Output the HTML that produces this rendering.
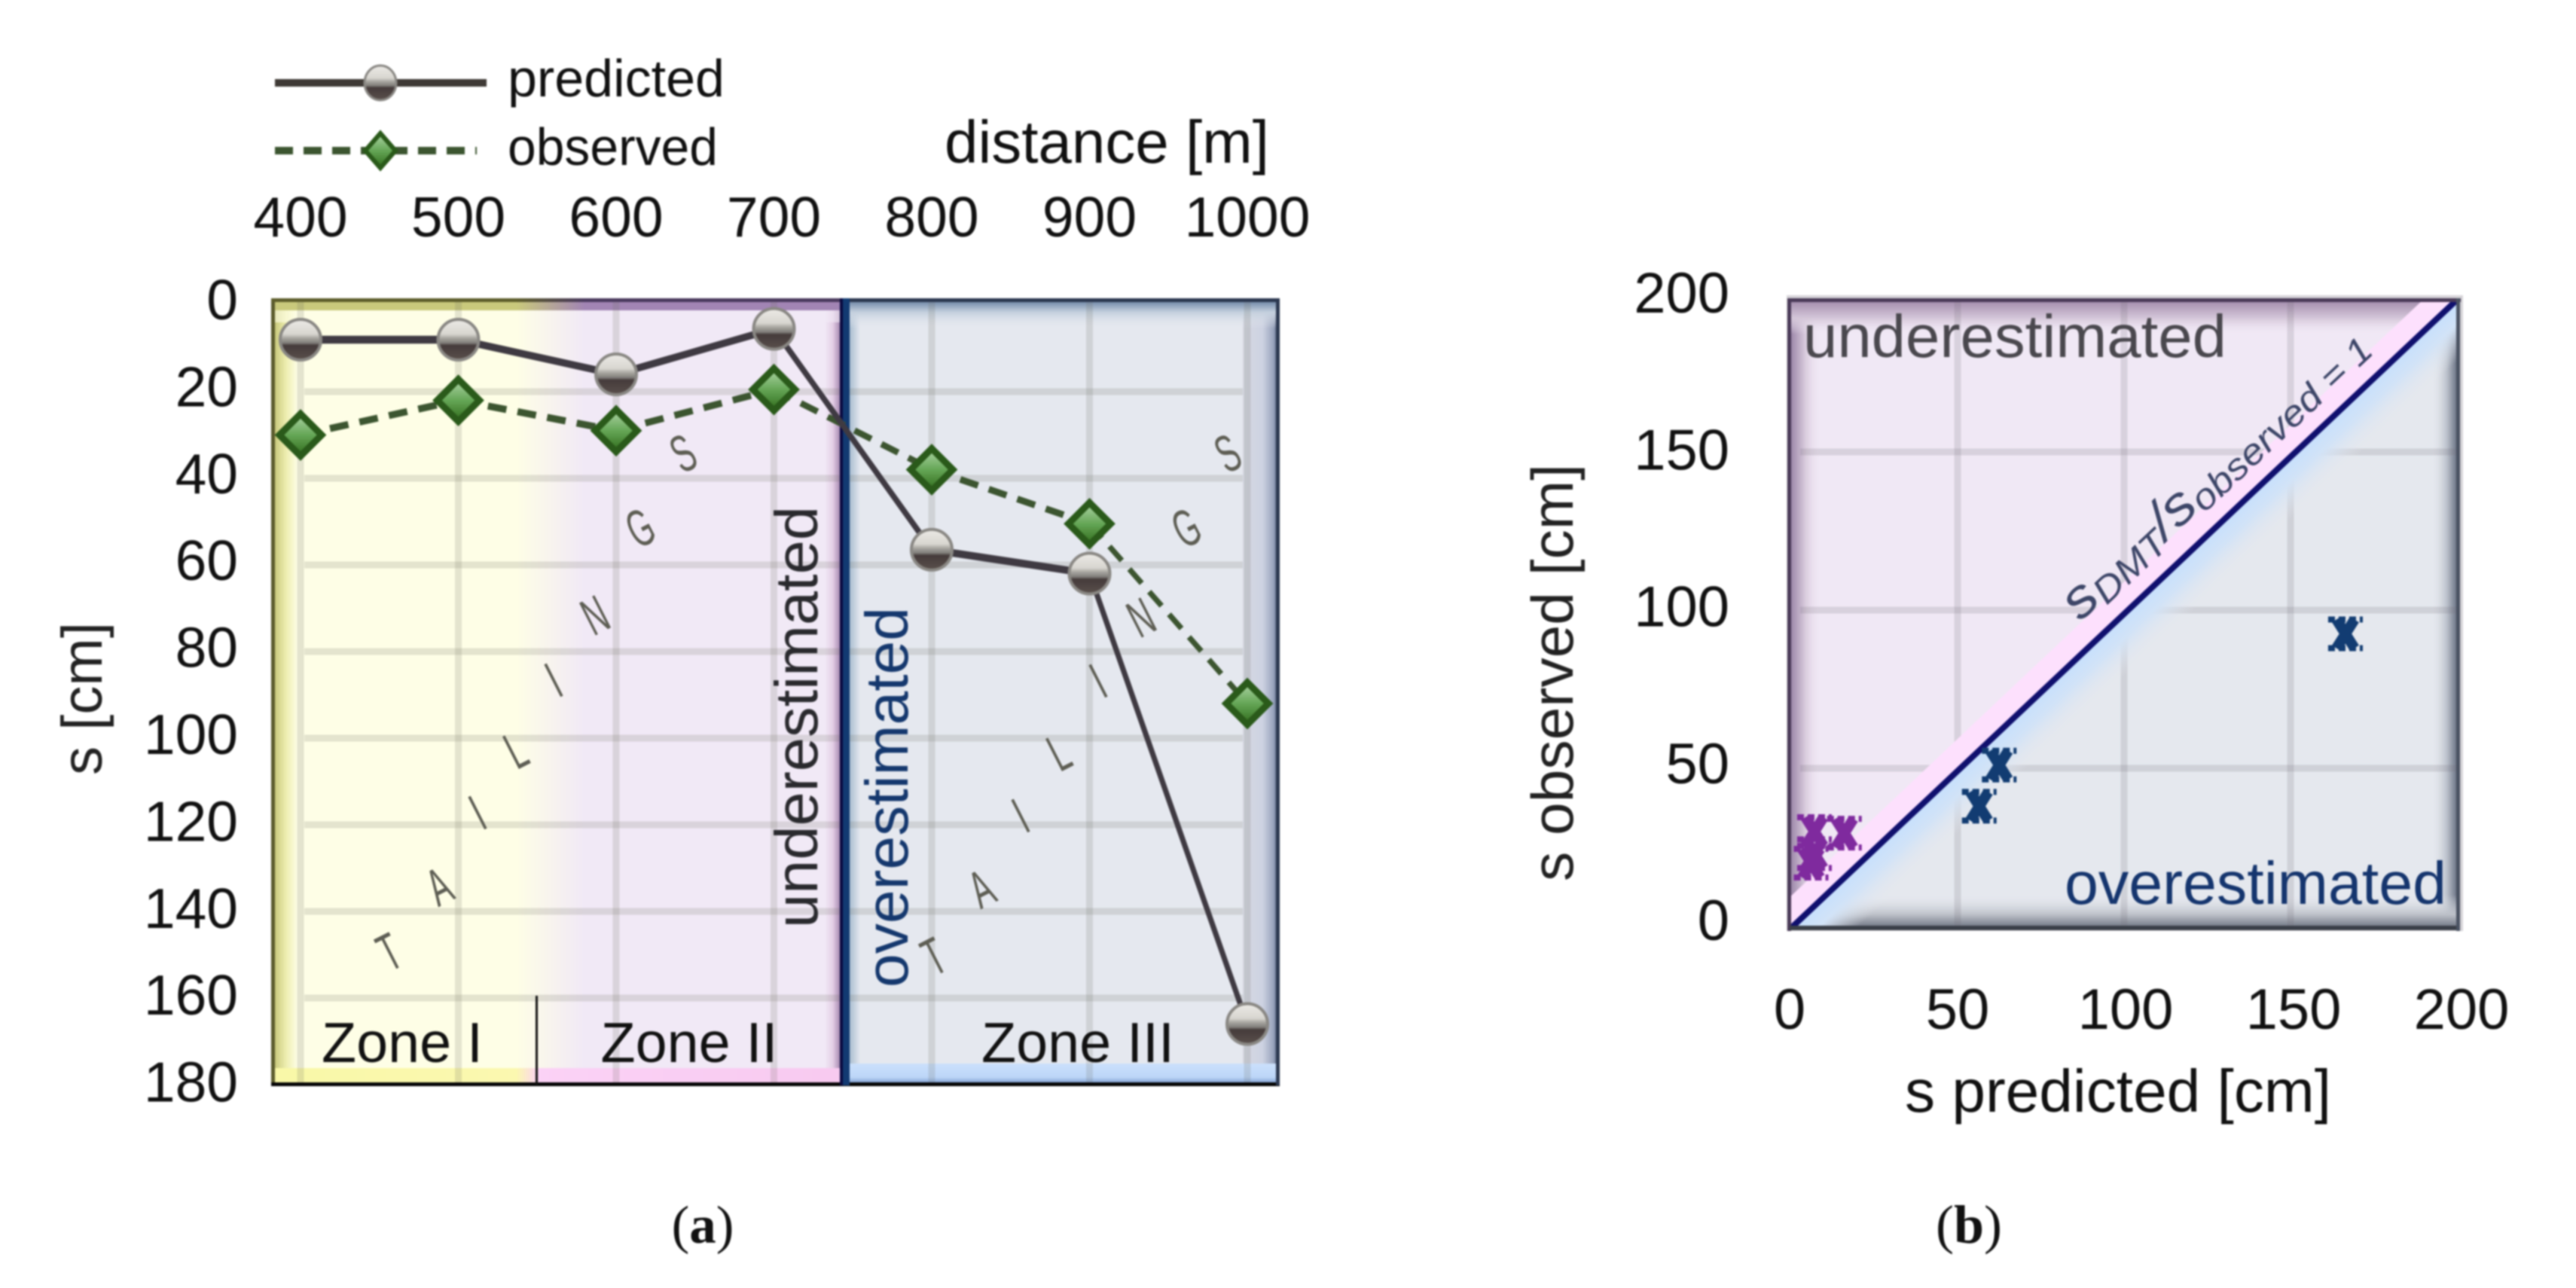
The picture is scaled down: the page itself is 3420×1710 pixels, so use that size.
<!DOCTYPE html>
<html lang="en">
<head>
<meta charset="utf-8">
<title>Settlement charts</title>
<style>
html,body{margin:0;padding:0;background:#fff;width:3420px;height:1710px;overflow:hidden}
svg{display:block;filter:blur(1.1px)}
text{font-family:"Liberation Sans",sans-serif;fill:#111}
</style>
</head>
<body>
<svg id="chart" xmlns="http://www.w3.org/2000/svg" width="3420" height="1710" viewBox="0 0 3420 1710">
<defs>
  <linearGradient id="zoneFade" gradientUnits="userSpaceOnUse" x1="362" x2="1115" y1="0" y2="0">
    <stop offset="0" stop-color="#fefee6"/><stop offset="0.43" stop-color="#fefee6"/><stop offset="0.55" stop-color="#f1e9f6"/><stop offset="1" stop-color="#f1e9f6"/>
  </linearGradient>
  <linearGradient id="topBandA" gradientUnits="userSpaceOnUse" x1="362" x2="1115" y1="0" y2="0">
    <stop offset="0" stop-color="#c9c97c"/><stop offset="0.43" stop-color="#c9c97c"/><stop offset="0.55" stop-color="#a285b4"/><stop offset="1" stop-color="#a285b4"/>
  </linearGradient>
  <linearGradient id="topDarkA" gradientUnits="userSpaceOnUse" x1="362" x2="1115" y1="0" y2="0">
    <stop offset="0" stop-color="#5e5e2c"/><stop offset="0.43" stop-color="#5e5e2c"/><stop offset="0.55" stop-color="#4a3a5e"/><stop offset="1" stop-color="#4a3a5e"/>
  </linearGradient>
  <linearGradient id="botBandA" gradientUnits="userSpaceOnUse" x1="362" x2="1115" y1="0" y2="0">
    <stop offset="0" stop-color="#f9f8a8"/><stop offset="0.43" stop-color="#fbf8b0"/><stop offset="0.47" stop-color="#fbd2f6"/><stop offset="1" stop-color="#f8caf0"/>
  </linearGradient>
  <linearGradient id="bandLeftY" x1="0" x2="1" y1="0" y2="0">
    <stop offset="0" stop-color="#c9c97c"/><stop offset="0.5" stop-color="#eeeeb0"/><stop offset="1" stop-color="#fefee6"/>
  </linearGradient>
  <linearGradient id="bandRightP" x1="0" x2="1" y1="0" y2="0">
    <stop offset="0" stop-color="#f1e9f6"/><stop offset="0.5" stop-color="#e4cfe6"/><stop offset="1" stop-color="#a283ad"/>
  </linearGradient>
  <linearGradient id="bandRightB" x1="0" x2="1" y1="0" y2="0">
    <stop offset="0" stop-color="#d6d9e3"/><stop offset="0.55" stop-color="#cdd2e2"/><stop offset="0.85" stop-color="#98a3bc"/><stop offset="1" stop-color="#3a4866"/>
  </linearGradient>
  <linearGradient id="bandLeftB" x1="0" x2="1" y1="0" y2="0">
    <stop offset="0" stop-color="#a9bdd0"/><stop offset="1" stop-color="#e5e8ef"/>
  </linearGradient>
  <linearGradient id="topBandB" x1="0" x2="0" y1="0" y2="1">
    <stop offset="0" stop-color="#7188a8"/><stop offset="0.4" stop-color="#c4d0de"/><stop offset="1" stop-color="#e5e8ef" stop-opacity="0"/>
  </linearGradient>
  <linearGradient id="botBandB" x1="0" x2="0" y1="0" y2="1">
    <stop offset="0" stop-color="#cbe0fc"/><stop offset="0.7" stop-color="#bcd6f8"/><stop offset="1" stop-color="#7f9fd0"/>
  </linearGradient>
  <linearGradient id="bTop" x1="0" x2="0" y1="0" y2="1">
    <stop offset="0" stop-color="#a48eae"/><stop offset="0.5" stop-color="#d4c6d8"/><stop offset="1" stop-color="#f0e8f5" stop-opacity="0"/>
  </linearGradient>
  <linearGradient id="bLeft" x1="0" x2="1" y1="0" y2="0">
    <stop offset="0" stop-color="#9d87a9"/><stop offset="0.5" stop-color="#dccfe0"/><stop offset="1" stop-color="#f0e8f5" stop-opacity="0"/>
  </linearGradient>
  <linearGradient id="bRight" x1="0" x2="1" y1="0" y2="0">
    <stop offset="0" stop-color="#e5e8ee" stop-opacity="0"/><stop offset="0.6" stop-color="#bcc2cc"/><stop offset="1" stop-color="#6a7284"/>
  </linearGradient>
  <linearGradient id="bBottom" x1="0" x2="0" y1="0" y2="1">
    <stop offset="0" stop-color="#e5e8ee" stop-opacity="0"/><stop offset="0.6" stop-color="#bcc0c8"/><stop offset="1" stop-color="#6c7280"/>
  </linearGradient>
  <linearGradient id="ballFill" x1="0" x2="0" y1="0" y2="1">
    <stop offset="0" stop-color="#eceae6"/><stop offset="0.36" stop-color="#d8d6d0"/><stop offset="0.46" stop-color="#a8a6a0"/><stop offset="0.58" stop-color="#807e7a"/><stop offset="0.64" stop-color="#453b3b"/><stop offset="1" stop-color="#5a504c"/>
  </linearGradient>
  <linearGradient id="gemFill" x1="0" x2="0" y1="0" y2="1">
    <stop offset="0" stop-color="#b0d6a8"/><stop offset="0.5" stop-color="#65a656"/><stop offset="1" stop-color="#2f6a1a"/>
  </linearGradient>
  <linearGradient id="blueGlow" gradientUnits="userSpaceOnUse" x1="2820" y1="815" x2="2861.2" y2="858.6">
    <stop offset="0" stop-color="#c6e0fd"/><stop offset="0.4" stop-color="#d2e3f7"/><stop offset="1" stop-color="#e5e8ee" stop-opacity="0"/>
  </linearGradient>
  <clipPath id="clipB"><rect x="2378" y="400" width="884" height="832"/></clipPath>
</defs>

<!-- Panel A background -->
<g>
  <rect x="362" y="398" width="756" height="1041" fill="url(#zoneFade)"/>
  <rect x="1118" y="398" width="580" height="1041" fill="#e5e8ef"/>
  <rect x="365" y="400" width="30" height="1038" fill="url(#bandLeftY)"/>
  <rect x="1095" y="400" width="21" height="1038" fill="url(#bandRightP)"/>
  <rect x="1650" y="400" width="48" height="1038" fill="url(#bandRightB)"/>
  <rect x="1128" y="400" width="14" height="1038" fill="url(#bandLeftB)"/>
  <rect x="362" y="400" width="754" height="12" fill="url(#topBandA)"/>
  <rect x="1128" y="400" width="570" height="36" fill="url(#topBandB)"/>
  <rect x="362" y="412" width="754" height="16" fill="url(#zoneFade)" opacity="0.6"/>
  <rect x="362" y="1418" width="754" height="20" fill="url(#botBandA)"/>
  <rect x="1128" y="1412" width="570" height="26" fill="url(#botBandB)"/>
</g>
<g id="gridA"></g>
<g>
  <rect x="360" y="396" width="5" height="1045" fill="#5a5a2c"/>
  <rect x="360" y="396" width="756" height="5" fill="url(#topDarkA)"/>
  <rect x="1128" y="396" width="570" height="5" fill="#2c3850"/>
  <rect x="360" y="1437" width="1339" height="5" fill="#050505"/>
  <rect x="1694" y="396" width="5" height="1045" fill="#2c3850"/>
  <rect x="1115" y="396" width="4" height="1045" fill="#0a0a40"/>
  <rect x="1119" y="396" width="9" height="1045" fill="#123a72"/>
  <rect x="711" y="1322" width="3" height="118" fill="#111"/>
</g>
<g style="font-size:70px">
  <text style="fill:#5e5e54" transform="translate(517 1264) rotate(-27) scale(.58 1)" text-anchor="middle" dy="24">T</text>
  <text style="fill:#5e5e54" transform="translate(583 1177) rotate(-27) scale(.58 1)" text-anchor="middle" dy="24">A</text>
  <text style="fill:#5e5e54" transform="translate(634 1079) rotate(-27) scale(.58 1)" text-anchor="middle" dy="24">I</text>
  <text style="fill:#5e5e54" transform="translate(685 996) rotate(-27) scale(.58 1)" text-anchor="middle" dy="24">L</text>
  <text style="fill:#5e5e54" transform="translate(735 903) rotate(-27) scale(.58 1)" text-anchor="middle" dy="24">I</text>
  <text style="fill:#5e5e54" transform="translate(790 817) rotate(-27) scale(.58 1)" text-anchor="middle" dy="24">N</text>
  <text style="fill:#5e5e54" transform="translate(850 701) rotate(-27) scale(.58 1)" text-anchor="middle" dy="24">G</text>
  <text style="fill:#5e5e54" transform="translate(907 602) rotate(-27) scale(.58 1)" text-anchor="middle" dy="24">S</text>
</g>
<g style="font-size:70px">
  <text style="fill:#5e5e54" transform="translate(1240 1270) rotate(-27) scale(.58 1)" text-anchor="middle" dy="24">T</text>
  <text style="fill:#5e5e54" transform="translate(1303 1180) rotate(-27) scale(.58 1)" text-anchor="middle" dy="24">A</text>
  <text style="fill:#5e5e54" transform="translate(1355 1083) rotate(-27) scale(.58 1)" text-anchor="middle" dy="24">I</text>
  <text style="fill:#5e5e54" transform="translate(1406 999) rotate(-27) scale(.58 1)" text-anchor="middle" dy="24">L</text>
  <text style="fill:#5e5e54" transform="translate(1458 904) rotate(-27) scale(.58 1)" text-anchor="middle" dy="24">I</text>
  <text style="fill:#5e5e54" transform="translate(1515 820) rotate(-27) scale(.58 1)" text-anchor="middle" dy="24">N</text>
  <text style="fill:#5e5e54" transform="translate(1575 701) rotate(-27) scale(.58 1)" text-anchor="middle" dy="24">G</text>
  <text style="fill:#5e5e54" transform="translate(1630 602) rotate(-27) scale(.58 1)" text-anchor="middle" dy="24">S</text>
</g>
<text x="534" y="1410" text-anchor="middle" font-size="75" textLength="214" lengthAdjust="spacingAndGlyphs">Zone I</text>
<text x="915" y="1410" text-anchor="middle" font-size="75" textLength="235" lengthAdjust="spacingAndGlyphs">Zone II</text>
<text x="1431" y="1410" text-anchor="middle" font-size="75" textLength="256" lengthAdjust="spacingAndGlyphs">Zone III</text>
<text transform="translate(1085 1232) rotate(-90)" font-size="80" textLength="560" lengthAdjust="spacingAndGlyphs" style="fill:#2a2a2e">underestimated</text>
<text transform="translate(1205 1311) rotate(-90)" font-size="80" textLength="505" lengthAdjust="spacingAndGlyphs" style="fill:#15386e">overestimated</text>

<g id="seriesA"></g>
<g id="axesA"></g>

<text x="1254" y="216" font-size="80" textLength="431" lengthAdjust="spacingAndGlyphs">distance [m]</text>
<text transform="translate(135 1029) rotate(-90)" font-size="76" textLength="203" lengthAdjust="spacingAndGlyphs" style="fill:#222">s [cm]</text>

<g>
  <line x1="365" y1="110" x2="646" y2="110" stroke="#3f3a36" stroke-width="10"/>
  <ellipse cx="505" cy="110" rx="21" ry="23" fill="url(#ballFill)" stroke="#8a8884" stroke-width="3"/>
  <text x="674" y="128" font-size="70" textLength="288" lengthAdjust="spacingAndGlyphs">predicted</text>
  <line x1="365" y1="200" x2="633" y2="200" stroke="#3c5530" stroke-width="10" stroke-dasharray="24 14"/>
  <polygon points="505,177 525,200 505,223 485,200" fill="url(#gemFill)" stroke="#2a5a1a" stroke-width="6"/>
  <text x="674" y="219" font-size="70" textLength="279" lengthAdjust="spacingAndGlyphs">observed</text>
</g>
<text x="933" y="1650" text-anchor="middle" font-size="71" style="font-family:'Liberation Serif',serif">(<tspan font-weight="bold">a</tspan>)</text>

<!-- Panel B -->
<g>
  <rect x="2372" y="392" width="898" height="844" fill="#d6d4d8"/>
  <rect x="2378" y="400" width="884" height="832" fill="#e5e8ee"/>
  <g clip-path="url(#clipB)">
    <polygon points="2378,1232 3262,398 2378,398" fill="#f0e8f5"/>
    <rect x="2378" y="400" width="40" height="832" fill="url(#bLeft)"/>
    <rect x="2378" y="400" width="884" height="44" fill="url(#bTop)"/>
    <rect x="3228" y="400" width="34" height="832" fill="url(#bRight)"/>
    <rect x="2378" y="1188" width="884" height="44" fill="url(#bBottom)"/>
  </g>
</g>
<g id="gridB"></g>
<g id="diagB" clip-path="url(#clipB)"></g>
<g>
  <rect x="2373" y="396" width="894" height="5" fill="#4a3a58"/>
  <rect x="2373" y="396" width="5" height="840" fill="#4a3a58"/>
  <rect x="2376" y="1229" width="890" height="6" fill="#3a3f48"/>
  <rect x="3261" y="396" width="5" height="840" fill="#4a5262"/>
</g>
<g id="seriesB"></g>
<text x="2394" y="474" font-size="80" textLength="562" lengthAdjust="spacingAndGlyphs" style="fill:#4a484e">underestimated</text>
<text x="2741" y="1200" font-size="80" textLength="507" lengthAdjust="spacingAndGlyphs" style="fill:#15356e">overestimated</text>
<text transform="translate(2762 826) rotate(-43.3)" font-size="72" font-style="italic" textLength="530" lengthAdjust="spacingAndGlyphs" style="fill:#3d4668">s<tspan font-size="48" dy="8">DMT</tspan><tspan dy="-8">/s</tspan><tspan font-size="48" dy="8">observed</tspan><tspan font-size="48"> = 1</tspan></text>
<g id="axesB"></g>
<text x="2812" y="1476" text-anchor="middle" font-size="80" textLength="566" lengthAdjust="spacingAndGlyphs">s predicted [cm]</text>
<text transform="translate(2088 1170) rotate(-90)" font-size="78" textLength="554" lengthAdjust="spacingAndGlyphs" style="fill:#222">s observed [cm]</text>
<text x="2614" y="1650" text-anchor="middle" font-size="72" style="font-family:'Liberation Serif',serif">(<tspan font-weight="bold">b</tspan>)</text>
</svg>

<script>
// Panel A data
const distances = [400, 500, 600, 700, 800, 900, 1000];
const predictedA = [8, 8, 16, 5.5, 56.5, 62, 166];
const observedA = [30, 22, 29, 19.5, 38, 50.5, 92];
const depthTicks = [0, 20, 40, 60, 80, 100, 120, 140, 160, 180];
// Panel B data
const scatterPurpleX = [7, 16, 6, 7];
const scatterPurpleY = [30, 29.5, 20, 23];
const scatterBlueX = [56.5, 62.5, 166.5];
const scatterBlueY = [38, 51, 92.5];
const scatterTicks = [0, 50, 100, 150, 200];

const NS = 'http://www.w3.org/2000/svg';
function make(tag, attrs, parent) {
  const el = document.createElementNS(NS, tag);
  for (const k in attrs) el.setAttribute(k, attrs[k]);
  parent.appendChild(el);
  return el;
}
const xA = d => 399 + 2.095 * (d - 400);
const yA = s => 405 + 5.75 * s;
const xB = v => 2378 + 4.42 * v;
const yB = v => 1230 - 4.2 * v;

// Grid A
const gridA = document.getElementById('gridA');
distances.forEach(d => {
  const l = make('line', {x1: xA(d), x2: xA(d), y1: 401, y2: 1437, stroke: 'rgb(110,110,100)', 'stroke-opacity': 0.18, 'stroke-width': 9}, gridA);
  
  
});
depthTicks.slice(1, -1).forEach(s => {
  [[404, 1115], [1128, 1650]].forEach(r => {
    const l = make('line', {x1: r[0], x2: r[1], y1: yA(s), y2: yA(s), stroke: 'rgb(110,110,100)', 'stroke-opacity': 0.18, 'stroke-width': 9}, gridA);
    
    
  });
});

// Axes A
const axesA = document.getElementById('axesA');
distances.forEach(d => {
  const t = make('text', {x: xA(d), y: 314, 'text-anchor': 'middle', 'font-size': 75}, axesA);
  t.textContent = d;
  
  
});
depthTicks.forEach(s => {
  const t = make('text', {x: 316, y: yA(s) - 7 + 0.02 * s + 26, 'text-anchor': 'end', 'font-size': 75}, axesA);
  t.textContent = s;
  
  
});

// Series A
const seriesA = document.getElementById('seriesA');
function drawLine(values, color, base, dash, name) {
  for (let i = 0; i < values.length - 1; i++) {
    const x1 = xA(distances[i]), y1 = yA(values[i]), x2 = xA(distances[i + 1]), y2 = yA(values[i + 1]);
    const len = Math.hypot(x2 - x1, y2 - y1);
    const w = base - 3.5 * Math.abs(y2 - y1) / len;
    const l = make('line', {x1, y1, x2, y2, stroke: color, 'stroke-width': w}, seriesA);
    if (dash) l.setAttribute('stroke-dasharray', dash);
    
    
  }
}
drawLine(observedA, '#3c5530', 10, '25 15', 'observed-line');
drawLine(predictedA, '#3f3a42', 10.5, null, 'predicted-line');
observedA.forEach((s, i) => {
  const cx = xA(distances[i]), cy = yA(s);
  const p = make('polygon', {points: [[cx, cy - 28], [cx + 28, cy], [cx, cy + 28], [cx - 28, cy]].map(a => a.join(',')).join(' '), fill: 'url(#gemFill)', stroke: '#2a5a1a', 'stroke-width': 9}, seriesA);
  
  
});
predictedA.forEach((s, i) => {
  const c = make('circle', {cx: xA(distances[i]), cy: yA(s), r: 27, fill: 'url(#ballFill)', stroke: '#8a8884', 'stroke-width': 4}, seriesA);
  
  
});

// Grid B
const gridB = document.getElementById('gridB');
scatterTicks.slice(1, -1).forEach(v => {
  const lv = make('line', {x1: xB(v), x2: xB(v), y1: 401, y2: 1229, stroke: 'rgb(110,105,115)', 'stroke-opacity': 0.18, 'stroke-width': 9}, gridB);
  
  
  const lh = make('line', {x1: 2390, x2: 3261, y1: yB(v), y2: yB(v), stroke: 'rgb(110,105,115)', 'stroke-opacity': 0.18, 'stroke-width': 9}, gridB);
  
  
});

// Diagonal
const diagB = document.getElementById('diagB');
const diagFrom = 0, diagTo = 200;
const dx0 = xB(diagFrom), dy0 = 1232, dx1 = xB(diagTo), dy1 = 398;
const pink = make('line', {x1: dx0 - 12, y1: dy0 - 12, x2: dx1 - 12, y2: dy1 - 12, stroke: '#fde0fd', 'stroke-width': 28}, diagB);


const blue = make('line', {x1: dx0 + 21, y1: dy0 + 22, x2: dx1 + 21, y2: dy1 + 22, stroke: 'url(#blueGlow)', 'stroke-width': 60}, diagB);


const navy = make('line', {x1: dx0, y1: dy0, x2: dx1, y2: dy1, stroke: '#10106e', 'stroke-width': 8}, diagB);



// Axes B
const axesB = document.getElementById('axesB');
scatterTicks.forEach(v => {
  const tx = make('text', {x: 2376 + 4.46 * v, y: 1366, 'text-anchor': 'middle', 'font-size': 76}, axesB);
  tx.textContent = v;
  
  
  const ty = make('text', {x: 2296, y: yB(v) - 8 + 0.035 * v + 26, 'text-anchor': 'end', 'font-size': 76}, axesB);
  ty.textContent = v;
  
  
});

// Series B
const seriesB = document.getElementById('seriesB');
function crossPath(cx, cy) {
  const w = 12, h = 19;
  return `M${cx - w} ${cy - h}L${cx + w} ${cy + h}M${cx + w} ${cy - h}L${cx - w} ${cy + h}`;
}
function capPath(cx, cy) {
  const h = 19, cap = 23;
  return `M${cx - cap} ${cy - h}H${cx + cap}M${cx - cap} ${cy + h}H${cx + cap}`;
}
function drawCross(x, y, color, name) {
  const p = make('path', {d: crossPath(xB(x), yB(y)), stroke: color, 'stroke-width': 14, fill: 'none'}, seriesB);
  
  
  const c = make('path', {d: capPath(xB(x), yB(y)), stroke: color, 'stroke-width': 8, 'stroke-dasharray': '9 5', fill: 'none'}, seriesB);
  
  
}
scatterPurpleX.forEach((x, i) => drawCross(x, scatterPurpleY[i], '#7f2a9e', 'underestimated-point'));
scatterBlueX.forEach((x, i) => drawCross(x, scatterBlueY[i], '#123c72', 'overestimated-point'));
</script>
</body>
</html>
